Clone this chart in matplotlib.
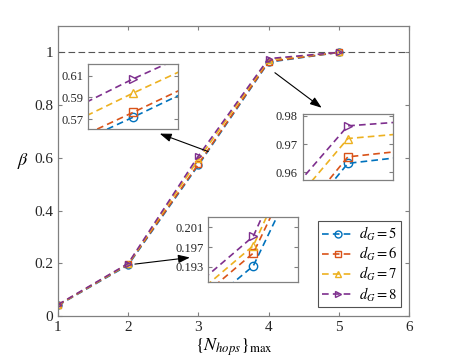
import numpy as np
import matplotlib
matplotlib.use("Agg")
import matplotlib.pyplot as plt

plt.rcParams['font.family'] = ['Liberation Serif', 'DejaVu Serif']
plt.rcParams['mathtext.fontset'] = 'stix'

# data
hops = [1, 2, 3, 4, 5]
beta_d5 = [0.040, 0.1932, 0.5720, 0.9632, 1.0]
beta_d6 = [0.041, 0.1958, 0.5764, 0.9655, 1.0]
beta_d7 = [0.042, 0.1973, 0.5940, 0.9720, 1.0]
beta_d8 = [0.043, 0.1992, 0.6070, 0.9765, 1.0]
labels = ['$d_G = 5$', '$d_G = 6$', '$d_G = 7$', '$d_G = 8$']

series = [beta_d5, beta_d6, beta_d7, beta_d8]
colors = ['#0072BD', '#D95319', '#EDB120', '#7E2F8E']
markers = ['o', 's', '^', '>']
spine_col = '#808080'


def style_axes(ax, fs):
    for s in ax.spines.values():
        s.set_color(spine_col)
        s.set_linewidth(0.9)
    ax.tick_params(direction='in', top=True, right=True, colors=spine_col,
                   labelcolor='#262626', labelsize=fs, length=3)


def draw_lines(ax, ms):
    for y, c, m, lab in zip(series, colors, markers, labels):
        ax.plot(hops, y, linestyle='--', color=c, linewidth=1.2, marker=m,
                markersize=ms, markerfacecolor='none', markeredgecolor=c,
                markeredgewidth=1.0, label=lab, dashes=(4, 2.5))


fig = plt.figure(figsize=(4.52, 3.62), dpi=100)
ax = fig.add_axes([0.128, 0.127, 0.777, 0.801])

ax.axhline(1.0, color='#555555', linestyle='--', linewidth=0.8, dashes=(6, 3))
draw_lines(ax, 5)
ax.set_xlim(1, 6)
ax.set_ylim(0, 1.1)
ax.set_xticks([1, 2, 3, 4, 5, 6])
ax.set_yticks([0, 0.2, 0.4, 0.6, 0.8, 1.0])
ax.set_yticklabels(['0', '0.2', '0.4', '0.6', '0.8', '1'])
style_axes(ax, 11)
ax.set_xlabel(r'$\{N_{hops}\}_{\max}$', fontsize=13, labelpad=2)
ax.set_ylabel(r'$\beta$', fontsize=13, rotation=0, labelpad=8)

leg = ax.legend(loc='lower right', bbox_to_anchor=(400.7 / 452, 54.7 / 362),
                bbox_transform=fig.transFigure, fontsize=10.5, frameon=True,
                fancybox=False, edgecolor='#262626', handlelength=2.2,
                borderpad=0.25, labelspacing=0.15, handletextpad=0.3,
                borderaxespad=0)
leg.get_frame().set_linewidth(0.8)

arrow = dict(arrowstyle='-|>,head_width=0.25,head_length=0.7', color='black',
             lw=0.8, shrinkA=0, shrinkB=0)
ax.annotate('', xy=(2.45, 0.692), xytext=(3.14, 0.624), arrowprops=arrow)
ax.annotate('', xy=(4.756, 0.790), xytext=(4.09, 0.923), arrowprops=arrow)
ax.annotate('', xy=(2.88, 0.222), xytext=(2.097, 0.197), arrowprops=arrow)

# zoomed insets
insets = [
    ([0.1954, 0.6436, 0.198, 0.1796], (2.95, 3.05), (0.5612, 0.6206),
     [0.57, 0.59, 0.61], ['0.57', '0.59', '0.61']),
    ([0.6697, 0.5028, 0.1998, 0.1815], (3.95, 4.05), (0.9573, 0.9806),
     [0.96, 0.97, 0.98], ['0.96', '0.97', '0.98']),
    ([0.4608, 0.2219, 0.1991, 0.1796], (1.95, 2.05), (0.1900, 0.2032),
     [0.193, 0.197, 0.201], ['0.193', '0.197', '0.201']),
]
for rect, xl, yl, yt, ytl in insets:
    ins = fig.add_axes(rect)
    draw_lines(ins, 6)
    ins.set_xlim(*xl)
    ins.set_ylim(*yl)
    ins.set_xticks([])
    ins.set_yticks(yt)
    ins.set_yticklabels(ytl)
    style_axes(ins, 9)
    ins.set_facecolor('white')

fig.savefig('out.png', dpi=100)
